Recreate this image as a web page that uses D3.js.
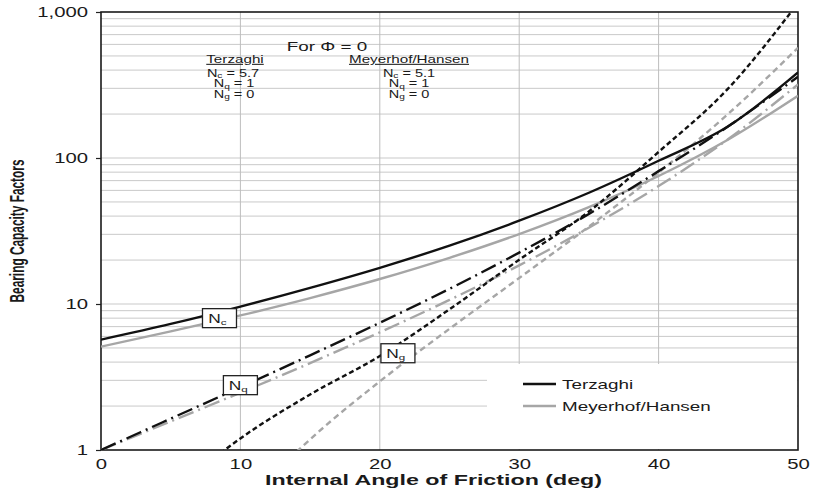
<!DOCTYPE html>
<html><head><meta charset="utf-8">
<script src="https://cdn.jsdelivr.net/npm/d3@7"></script>
<style>
body{margin:0;background:#fff}
svg{display:block}
text{font-family:"Liberation Sans",Arial,Helvetica,sans-serif;fill:#1a1a1a}
</style>
</head><body>
<svg id="chart" width="816" height="493"></svg>
<script>
// Friction angle (deg) at which the factors are tabulated
const phi = [0, 5, 10, 15, 20, 25, 30, 35, 40, 45, 50];

// Terzaghi bearing capacity factors
const terzaghiNc = [5.7, 7.3, 9.6, 12.9, 17.7, 25.1, 37.2, 57.8, 95.7, 165, 385];
const terzaghiNq = [1, 1.64, 2.69, 4.45, 7.44, 12.7, 22.5, 41.4, 81.3, 165, 360];
const terzaghiNg = [0, 0.5, 1.2, 2.4, 4.4, 9.2, 20.1, 43, 110, 300, 1153];

// Meyerhof (Nc, Nq) and Hansen (Ng) bearing capacity factors
const meyerhofNc = [5.1, 6.49, 8.35, 10.98, 14.83, 20.72, 30.14, 46.12, 75.31, 133.88, 266.9];
const meyerhofNq = [1, 1.57, 2.47, 3.94, 6.40, 10.66, 18.40, 33.30, 64.20, 134.88, 319.1];
const hansenNg   = [0, 0.07, 0.39, 1.18, 2.95, 6.76, 15.07, 33.92, 79.54, 200.81, 568.6];

// Axis tick values
const xTicks = [0, 10, 20, 30, 40, 50];
const yTicks = [1, 10, 100, 1000];

// Curve labels placed on the chart (angle, factor)
const labelSubs   = ["c", "q", "g"];
const labelPhi    = [8.5, 10.0, 21.3];
const labelFactor = [8.0, 2.78, 4.6];

const svg = d3.select("#chart");
const margin = {left: 101, right: 18, top: 12, bottom: 43};
const W = 816, H = 493;
const x = d3.scaleLinear().domain([0, 50]).range([margin.left, W - margin.right]);
const y = d3.scaleLog().domain([1, 1000]).range([H - margin.bottom, margin.top]);
const SX = 1.45; // horizontal stretch applied to the lettering

const black = "#111", grey = "#a6a6a6";

// horizontal gridlines (every integer step within each decade)
const minor = [];
[1, 10, 100].forEach(d => { for (let k = 1; k <= 9; k++) minor.push(d * k); });
svg.append("g").selectAll("line").data(minor.filter(v => v > 1)).join("line")
  .attr("x1", x(0)).attr("x2", x(50))
  .attr("y1", d => y(d)).attr("y2", d => y(d))
  .attr("stroke", "#c9c9c9").attr("stroke-width", 1);

// vertical gridlines
svg.append("g").selectAll("line").data(xTicks.slice(1, -1)).join("line")
  .attr("x1", d => x(d)).attr("x2", d => x(d))
  .attr("y1", y(1)).attr("y2", y(1000))
  .attr("stroke", "#bdbdbd").attr("stroke-width", 1);

// legend background
svg.append("rect").attr("x", 487).attr("y", 364).attr("width", x(50) - 488).attr("height", y(1) - 365)
  .attr("fill", "#fff");

// axes
const yAxis = svg.append("g").attr("transform", `translate(${x(0)},0)`)
  .call(d3.axisLeft(y).tickValues(yTicks).tickFormat(d3.format(",")).tickSize(5).tickPadding(4));
yAxis.select(".domain").remove();
yAxis.selectAll("line").attr("stroke", "#222").attr("stroke-width", 1.2);
yAxis.selectAll("text").attr("font-size", 14).attr("x", -13 / SX)
  .attr("transform", `scale(${SX},1)`);

const xAxis = svg.append("g").attr("transform", `translate(0,${y(1)})`)
  .call(d3.axisBottom(x).tickValues(xTicks).tickFormat(d3.format("d")).tickSize(0));
xAxis.select(".domain").remove();
xAxis.selectAll("text").attr("font-size", 14).attr("y", 19).attr("dy", 0).attr("x", 0)
  .attr("transform", `scale(${SX},1)`);

// plot frame
svg.append("rect").attr("x", x(0)).attr("y", y(1000))
  .attr("width", x(50) - x(0)).attr("height", y(1) - y(1000))
  .attr("fill", "none").attr("stroke", "#1a1a1a").attr("stroke-width", 1.6);

// curves
svg.append("clipPath").attr("id", "plotClip").append("rect")
  .attr("x", x(0)).attr("y", y(1000)).attr("width", x(50) - x(0)).attr("height", y(1) - y(1000));

const series = [
  {vals: hansenNg,   color: grey,  dash: "6,4"},
  {vals: meyerhofNq, color: grey,  dash: "16,5,2,5"},
  {vals: meyerhofNc, color: grey,  dash: null},
  {vals: terzaghiNg, color: black, dash: "5,3"},
  {vals: terzaghiNq, color: black, dash: "16,5,2,5"},
  {vals: terzaghiNc, color: black, dash: null}
];
const line = d3.line()
  .defined(d => d[1] > 0)
  .x(d => x(d[0])).y(d => y(d[1]))
  .curve(d3.curveMonotoneX);
const curves = svg.append("g").attr("clip-path", "url(#plotClip)");
series.forEach(s => {
  curves.append("path")
    .attr("d", line(phi.map((p, i) => [p, s.vals[i]])))
    .attr("fill", "none").attr("stroke", s.color).attr("stroke-width", 2.4)
    .attr("stroke-dasharray", s.dash);
});

// factor labels in boxes
labelSubs.forEach((sub, i) => {
  const cx = x(labelPhi[i]), cy = y(labelFactor[i]);
  const g = svg.append("g").attr("transform", `translate(${cx},${cy})`);
  g.append("rect").attr("x", -17).attr("y", -9.5).attr("width", 34).attr("height", 19)
    .attr("fill", "#fff").attr("stroke", "#222").attr("stroke-width", 1.3);
  const t = g.append("text").attr("transform", `scale(${SX},1)`).attr("x", -1.5)
    .attr("y", 4.5).attr("text-anchor", "middle").attr("font-size", 12);
  t.append("tspan").text("N");
  t.append("tspan").attr("font-size", 8).attr("dy", 2).text(sub);
});

// annotation block for the frictionless case
function stretched(cx, cy, size, weight) {
  return svg.append("text").attr("transform", `translate(${cx},${cy}) scale(${SX},1)`)
    .attr("text-anchor", "middle").attr("font-size", size).attr("font-weight", weight || "normal");
}
stretched(327, 51, 13).text("For \u03A6 = 0");

function factorLine(cx, cy, sub, val) {
  const t = stretched(cx, cy, 10);
  t.append("tspan").text("N");
  t.append("tspan").attr("font-size", 7).attr("dy", 1.5).text(sub);
  t.append("tspan").attr("dy", -1.5).text(" = " + val);
}
stretched(235, 63, 10.5).attr("text-decoration", "underline").text("Terzaghi");
factorLine(233, 76.5, "c", terzaghiNc[0]);
factorLine(234, 87, "q", terzaghiNq[0]);
factorLine(234, 97.5, "g", terzaghiNg[0]);

stretched(409, 63, 10.5).attr("text-decoration", "underline").text("Meyerhof/Hansen");
factorLine(409, 76.5, "c", meyerhofNc[0]);
factorLine(409, 87, "q", meyerhofNq[0]);
factorLine(409, 97.5, "g", hansenNg[0]);

// legend
const legend = [
  {name: "Terzaghi", color: black, y: 384},
  {name: "Meyerhof/Hansen", color: grey, y: 406}
];
legend.forEach(l => {
  svg.append("line").attr("x1", 523).attr("x2", 556).attr("y1", l.y).attr("y2", l.y)
    .attr("stroke", l.color).attr("stroke-width", 2.4);
  svg.append("text").attr("transform", `translate(562,${l.y + 5}) scale(${SX},1)`)
    .attr("font-size", 13).text(l.name);
});

// axis titles
svg.append("text").attr("x", 265).attr("y", 485).attr("font-size", 15).attr("font-weight", "bold")
  .attr("textLength", 337).attr("lengthAdjust", "spacingAndGlyphs")
  .text("Internal Angle of Friction (deg)");
svg.append("text")
  .attr("transform", `translate(24,${(y(1) + y(1000)) / 2}) rotate(-90) scale(1,${SX})`)
  .attr("text-anchor", "middle").attr("font-size", 14).attr("font-weight", "bold")
  .attr("textLength", 143).attr("lengthAdjust", "spacingAndGlyphs")
  .text("Bearing Capacity Factors");
</script>
</body></html>
